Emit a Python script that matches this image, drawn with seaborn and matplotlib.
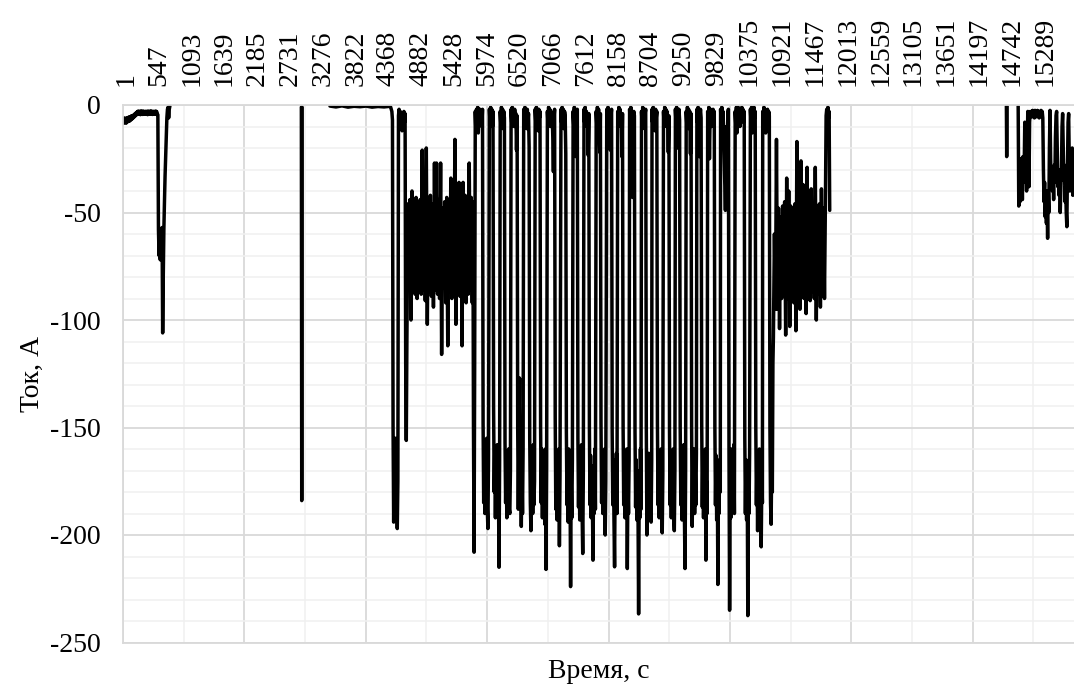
import numpy as np
import pandas as pd
import matplotlib
matplotlib.use("Agg")
import matplotlib.pyplot as plt
import matplotlib.transforms as mtransforms
from matplotlib.ticker import MultipleLocator
import seaborn as sns

# ---------------- data ----------------
time_labels = ["1", "547", "1093", "1639", "2185", "2731", "3276", "3822", "4368",
               "4882", "5428", "5974", "6520", "7066", "7612", "8158", "8704", "9250",
               "9829", "10375", "10921", "11467", "12013", "12559", "13105", "13651",
               "14197", "14742", "15289"]
label_interval = 546          # samples between category labels
n_samples = 15825
current_ticks = [0, -50, -100, -150, -200, -250]
current_tick_labels = ["0", "-50", "-100", "-150", "-200", "-250"]

# each piece: start sample, sample step, current values (A)
early_t0, early_dt = 0, 10
early_vals = [-7, -8.5, -6, -8, -6.5, -8.5, -6, -8, -6, -7.5, -5.5, -7.5, -5.5, -7, -5, -6.5, -5,
              -6, -4.5, -5.5, -4, -5, -3.5, -4.5,
              -3, -4.3, -2.8, -4, -3.2, -4.5, -2.7, -4.1, -3, -4.4, -2.8, -4, -3.1, -4.3, -2.9,
              -4.2, -3, -4.5, -2.8, -4, -3.2, -4.3, -2.7, -4.1, -3, -4.4, -2.9, -4, -3.1, -4.3,
              -2.8, -4.2, -3, -4.4, -4.5,
              -58, -70, -61, -72, -63, -68, -57, -106,
              -80, -58, -45, -33, -24, -15, -6, -2, -1, -6, -2, -0.5]

spike1_t0, spike1_dt = 2968, 6
spike1_vals = [-1, -184, -1]

idle_t0, idle_dt = 3444, 100
idle_vals = [-0.5, -0.9, -0.4, -1.0, -0.6, -0.8, -0.5, -1.0, -0.7, -0.9, -0.6]

start_t0, start_dt = 4454, 10
start_vals = [-1, -2, -3, -7, -150, -194, -160, -188, -155, -182, -170, -197, -175,
              -5, -2, -9, -3, -10, -4, -12, -5, -9, -3, -8, -4, -120, -156, -110]

band1_t0, band1_dt = 4741, 17
band1_vals = [-46, -86, -44, -100, -40, -84, -45, -88, -43, -90, -47, -85, -44, -88, -21, -86,
              -42, -91, -20, -102, -45, -87, -42, -89, -46, -94, -27, -86, -27, -88, -44, -90,
              -27, -116, -48, -85, -45, -92, -43, -112, -46, -87, -34, -90, -44, -88, -16, -102,
              -42, -86, -36, -89, -44, -112, -36, -87, -42, -92, -45, -88, -27, -86, -43, -92]

pre_t0, pre_dt = 5822, 10
pre_vals = [-45, -150, -208, -120]

cycle_dt = 10
cycle_start = [5862, 6097, 6277, 6458, 6668, 6859, 7062, 7288, 7490, 7671, 7874, 8050, 8232,
               8430, 8628, 8803, 8994, 9192, 9372, 9550, 9729, 9944, 10187, 10440, 10645]
cycle_vals = [
    [-3, -12, -2, -9, -1, -13, -4, -8, -2, -6, -3, -10, -2, -148, -185, -160, -190, -165, -180, -155, -188, -197, -165],
    [-2, -8, -1, -6, -2, -10, -3, -141, -180, -160, -192, -165, -185, -158, -190, -175, -215, -165],
    [-3, -9, -1, -7, -2, -11, -3, -6, -157, -185, -165, -192, -170, -183, -160, -188, -190, -170],
    [-2, -8, -1, -6, -3, -10, -2, -7, -4, -21, -5, -150, -188, -160, -127, -185, -165, -196, -170, -190, -160],
    [-2, -9, -1, -6, -3, -11, -2, -8, -4, -19.5, -155, -185, -198, -170, -165, -190, -158, -186, -175],
    [-2, -8, -1, -7, -3, -12, -2, -6, -3, -150, -185, -160, -192, -165, -188, -170, -195, -160, -216, -170],
    [-3, -9, -1, -6, -2, -10, -3, -8, -4, -15, -31, -6, -2, -145, -188, -162, -193, -170, -185, -160, -205, -172],
    [-2, -8, -1, -7, -2, -11, -3, -5, -22.7, -152, -186, -165, -194, -160, -190, -172, -224, -175, -192, -165],
    [-3, -9, -1, -7, -2, -24, -4, -2, -155, -187, -162, -193, -170, -185, -158, -190, -208.6, -172],
    [-2, -8, -1, -6, -3, -10, -4, -23.4, -4, -150, -186, -163, -192, -168, -185, -211.7, -172, -190, -160, -188],
    [-3, -9, -1, -7, -2, -10, -22, -4, -148, -185, -162, -190, -168, -186, -160, -200, -175],
    [-2, -8, -1, -6, -3, -9, -21, -5, -2, -152, -186, -165, -193, -214.8, -170, -188, -162, -190],
    [-3, -9, -1, -7, -2, -10, -4, -24, -4, -150, -186, -163, -192, -170, -185, -160, -215.6, -175, -190, -165],
    [-2, -8, -1, -6, -3, -43, -10, -3, -5, -152, -187, -165, -193, -170, -188, -236.7, -175, -192, -160, -188],
    [-3, -9, -1, -7, -2, -11, -4, -2, -150, -200, -170, -188, -162, -190, -168, -185, -194, -165],
    [-2, -8, -1, -7, -3, -12, -2, -6, -3, -148, -186, -163, -192, -170, -185, -160, -188, -199, -172],
    [-3, -9, -1, -7, -2, -10, -3, -8, -22, -5, -152, -186, -164, -192, -168, -187, -160, -190, -198, -170],
    [-2, -8, -1, -6, -20, -4, -2, -7, -150, -186, -162, -193, -170, -185, -158, -190, -215.6, -172],
    [-3, -9, -1, -7, -2, -11, -3, -22.7, -4, -150, -196, -165, -188, -160, -190, -170, -186, -162],
    [-2, -8, -1, -6, -24, -5, -2, -6, -148, -187, -163, -192, -168, -186, -160, -211.7, -175, -190],
    [-3, -9, -1, -25, -6, -2, -10, -3, -7, -2, -5, -3, -150, -186, -163, -193, -170, -223, -172, -190, -165, -180],
    [-2, -8, -1, -7, -3, -12, -25, -40, -49, -30, -10, -22, -4, -2, -160, -235, -175, -192, -160, -188, -168, -185, -158, -190],
    [-3, -9, -1, -13, -4, -1, -8, -2, -10, -3, -7, -1, -6, -2, -8, -3, -155, -190, -165, -193, -172, -237.5, -178, -190, -162],
    [-2, -8, -1, -13, -3, -7, -1, -6, -3, -150, -186, -165, -198, -170, -190, -160, -188, -172, -205.5, -175, -185],
    [-3, -9, -1, -7, -2, -13, -4, -10, -2, -8, -3, -5, -150, -185, -195, -165, -180, -120],
]

band2_t0, band2_dt = 10823, 17
band2_vals = [-108, -60, -95, -16, -95, -48, -104, -52, -90, -47, -88, -45, -107, -34, -90, -40,
              -103, -47, -88, -50, -92, -46, -105, -17, -89, -48, -95, -26, -88, -37, -90, -49,
              -97, -29, -90, -50, -91, -39, -87, -48, -90, -29, -100, -47, -88, -46, -94, -39,
              -89, -48, -90, -40]

tail_t0, tail_dt = 11700, 10
tail_vals = [-5, -2, -8, -1, -6, -3, -49]

spike2_t0, spike2_dt = 14700, 5
spike2_vals = [-0.5, -24, -0.5]

end_t0, end_dt = 14896, 10
end_vals = [-0.5, -47, -30, -45, -25, -40, -28, -44, -24, -36, -30, -8, -35, -26, -40, -22, -3,
            -30, -38, -8, -3, -5, -3, -5.5, -2.5, -5, -3, -6, -2.5, -5, -3, -5.5, -2.5, -5, -3,
            -6, -3, -5, -2.5, -5.5, -3, -6, -30, -45, -36, -52, -40, -55, -45, -62, -40, -50,
            -20, -2.5, -25, -36, -30, -40, -33, -44, -28, -36, -15, -5, -3, -20, -38, -30, -42,
            -35, -50, -38, -30, -10, -4, -20, -35, -28, -45, -38, -50, -56.6, -30, -8, -4, -25,
            -40, -30, -38, -35, -20, -42, -35, -40]

# ---------------- build table ----------------
lines = [
    [(early_t0, early_dt, early_vals)],
    [(spike1_t0, spike1_dt, spike1_vals)],
    [(idle_t0, idle_dt, idle_vals), (start_t0, start_dt, start_vals),
     (band1_t0, band1_dt, band1_vals), (pre_t0, pre_dt, pre_vals)]
    + [(t0, cycle_dt, v) for t0, v in zip(cycle_start, cycle_vals)]
    + [(band2_t0, band2_dt, band2_vals), (tail_t0, tail_dt, tail_vals)],
    [(spike2_t0, spike2_dt, spike2_vals)],
    [(end_t0, end_dt, end_vals)],
]
rows = []
for line_id, pieces in enumerate(lines):
    for t0, dt, vals in pieces:
        for i, v in enumerate(vals):
            rows.append((t0 + dt * i, v, line_id))
df = pd.DataFrame(rows, columns=["time", "current", "line"])

# ---------------- plot ----------------
sns.set_theme(style="white")
plt.rcParams["font.family"] = ["Liberation Serif", "DejaVu Serif"]

W, H = 1074, 694
fig = plt.figure(figsize=(W / 100, H / 100), dpi=100)
ax = fig.add_axes([123 / W, 51.5 / H, 951 / W, 537.5 / H])

major_c, minor_c = "#d9d9d9", "#f0f0f0"
grid_step = 1010
for k in range(0, 17):
    ax.axvline(k * grid_step, color=major_c if k % 2 == 0 else minor_c,
               lw=1.3 if k % 2 == 0 else 1.1, zorder=0)

ax.set_yticks(current_ticks)
ax.set_yticklabels(current_tick_labels)
ax.yaxis.set_minor_locator(MultipleLocator(10))
ax.grid(which="major", axis="y", color=major_c, lw=1.3, zorder=0)
ax.grid(which="minor", axis="y", color=minor_c, lw=1.1, zorder=0)
ax.set_axisbelow(True)

sns.lineplot(data=df, x="time", y="current", units="line", estimator=None,
             color="black", linewidth=2.5, ax=ax, legend=False)

ax.set_xlim(0, n_samples)
ax.set_ylim(-250, 0)

ax.xaxis.tick_top()
ax.set_xticks([i * label_interval for i in range(len(time_labels))])
ax.set_xticklabels(time_labels, rotation=90)
ax.tick_params(axis="x", which="both", length=0, pad=14, labelsize=20, colors="black")
ax.tick_params(axis="y", which="both", length=0, pad=16, labelsize=20, colors="black")
shift = mtransforms.ScaledTranslation(3 / 100, 0, fig.dpi_scale_trans)
for lab in ax.get_xticklabels():
    lab.set_transform(lab.get_transform() + shift)

for side in ["top", "left", "bottom"]:
    ax.spines[side].set_color(major_c)
    ax.spines[side].set_linewidth(1.3)
ax.spines["right"].set_visible(False)

ax.set_xlabel("Время, с", fontsize=20, color="black")
ax.xaxis.set_label_position("bottom")
ax.xaxis.set_label_coords(0.5, -0.03)
ax.set_ylabel("Ток, А", fontsize=20, color="black")
ax.yaxis.set_label_coords(-0.082, 0.5)

fig.savefig("out.png", dpi=100)
